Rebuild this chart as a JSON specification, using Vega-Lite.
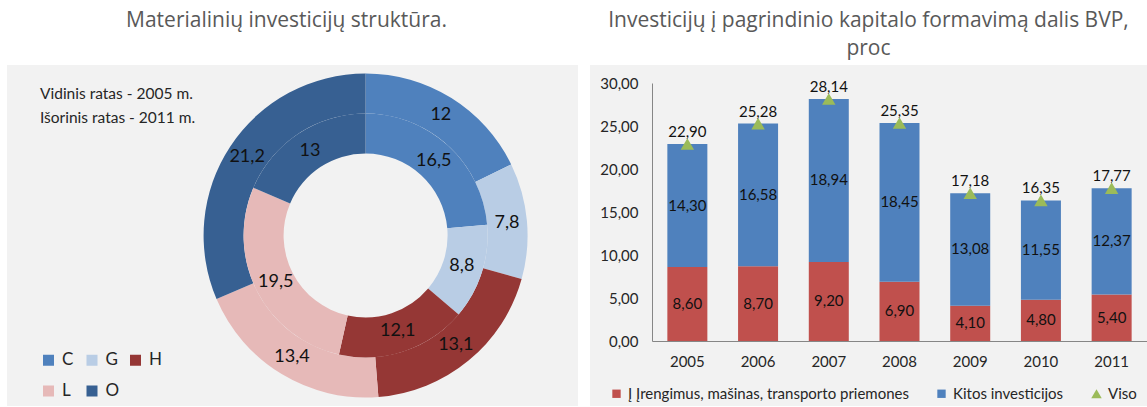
{
  "$schema": "https://vega.github.io/schema/vega-lite/v6.json",
  "padding": {"left": 7, "top": 10, "right": 0, "bottom": 0},
  "background": "white",
  "bounds": "flush",
  "spacing": 12,
  "resolve": {"scale": {"color": "independent"}, "legend": {"color": "independent"}},
  "config": {
    "font": "Lato",
    "view": {"fill": "#f2f2f2", "stroke": null},
    "locale": {"number": {"decimal": ",", "thousands": " ", "grouping": [3], "currency": ["", ""]}},
    "title": {"fontSize": 21, "fontWeight": "normal", "color": "#595959", "font": "Open Sans", "lineHeight": 28}
  },
  "hconcat": [
    {
      "width": 571,
      "height": 341,
      "title": {"text": "Materialinių investicijų struktūra.", "offset": 34, "dx": -6},
      "data": {"values": [
        {"ring": "2005", "cat": "C", "value": 16.5},
        {"ring": "2005", "cat": "G", "value": 8.8},
        {"ring": "2005", "cat": "H", "value": 12.1},
        {"ring": "2005", "cat": "L", "value": 19.5},
        {"ring": "2005", "cat": "O", "value": 13},
        {"ring": "2011", "cat": "C", "value": 12},
        {"ring": "2011", "cat": "G", "value": 7.8},
        {"ring": "2011", "cat": "H", "value": 13.1},
        {"ring": "2011", "cat": "L", "value": 13.4},
        {"ring": "2011", "cat": "O", "value": 21.2}
      ]},
      "encoding": {
        "x": {"datum": 0.628, "type": "quantitative", "scale": {"domain": [0, 1], "nice": false, "zero": false}, "axis": null}
      },
      "layer": [
        {
          "transform": [{"filter": "datum.ring === '2011'"}],
          "mark": {"type": "arc", "radius": 162, "radius2": 122},
          "encoding": {
            "theta": {"field": "value", "type": "quantitative", "stack": "normalize"},
            "order": {"field": "cat", "sort": "ascending"},
            "color": {
              "field": "cat", "type": "nominal",
              "scale": {"domain": ["C", "G", "H", "L", "O"], "range": ["#4f81bd", "#b9cde5", "#953735", "#e6b9b8", "#376092"]},
              "legend": {
                "title": ["Vidinis ratas - 2005 m.", "Išorinis ratas - 2011 m."],
                "orient": "none", "legendX": 33, "legendY": 22,
                "columns": 3, "direction": "horizontal", "gridAlign": "all",
                "symbolType": "square", "symbolSize": 121, "symbolStrokeWidth": 0,
                "labelFontSize": 17, "labelColor": "#262626", "labelOffset": 5,
                "titleFontSize": 15.5, "titleFontWeight": "normal", "titleColor": "#262626",
                "titleLineHeight": 24, "titlePadding": 225, "titleLimit": 400,
                "titleAnchor": "start", "titleAlign": "left", "titleOrient": "top",
                "columnPadding": 7.5, "rowPadding": 13, "padding": 0
              }
            }
          }
        },
        {
          "transform": [{"filter": "datum.ring === '2005'"}],
          "mark": {"type": "arc", "radius": 122, "radius2": 82},
          "encoding": {
            "theta": {"field": "value", "type": "quantitative", "stack": "normalize"},
            "order": {"field": "cat", "sort": "ascending"},
            "color": {"field": "cat", "type": "nominal"}
          }
        },
        {
          "transform": [{"filter": "datum.ring === '2011'"}],
          "mark": {"type": "text", "radius": 142, "fontSize": 18, "color": "#111111"},
          "encoding": {
            "theta": {"field": "value", "type": "quantitative", "stack": "normalize"},
            "order": {"field": "cat", "sort": "ascending"},
            "detail": {"field": "cat", "type": "nominal"},
            "text": {"field": "value", "type": "quantitative", "format": "~g"}
          }
        },
        {
          "transform": [{"filter": "datum.ring === '2005'"}],
          "mark": {"type": "text", "radius": 101, "fontSize": 18, "color": "#111111"},
          "encoding": {
            "theta": {"field": "value", "type": "quantitative", "stack": "normalize"},
            "order": {"field": "cat", "sort": "ascending"},
            "detail": {"field": "cat", "type": "nominal"},
            "text": {"field": "value", "type": "quantitative", "format": "~g"}
          }
        }
      ]
    },
    {
      "width": 557,
      "height": 341,
      "title": {"text": ["Investicijų į pagrindinio kapitalo formavimą dalis BVP,", "proc"], "offset": 6},
      "data": {"values": [
        {"year": "2005", "series": "Į Įrengimus, mašinas, transporto priemones", "value": 8.6},
        {"year": "2006", "series": "Į Įrengimus, mašinas, transporto priemones", "value": 8.7},
        {"year": "2007", "series": "Į Įrengimus, mašinas, transporto priemones", "value": 9.2},
        {"year": "2008", "series": "Į Įrengimus, mašinas, transporto priemones", "value": 6.9},
        {"year": "2009", "series": "Į Įrengimus, mašinas, transporto priemones", "value": 4.1},
        {"year": "2010", "series": "Į Įrengimus, mašinas, transporto priemones", "value": 4.8},
        {"year": "2011", "series": "Į Įrengimus, mašinas, transporto priemones", "value": 5.4},
        {"year": "2005", "series": "Kitos investicijos", "value": 14.3},
        {"year": "2006", "series": "Kitos investicijos", "value": 16.58},
        {"year": "2007", "series": "Kitos investicijos", "value": 18.94},
        {"year": "2008", "series": "Kitos investicijos", "value": 18.45},
        {"year": "2009", "series": "Kitos investicijos", "value": 13.08},
        {"year": "2010", "series": "Kitos investicijos", "value": 11.55},
        {"year": "2011", "series": "Kitos investicijos", "value": 12.37},
        {"year": "2005", "series": "Viso", "value": 22.9},
        {"year": "2006", "series": "Viso", "value": 25.28},
        {"year": "2007", "series": "Viso", "value": 28.14},
        {"year": "2008", "series": "Viso", "value": 25.35},
        {"year": "2009", "series": "Viso", "value": 17.18},
        {"year": "2010", "series": "Viso", "value": 16.35},
        {"year": "2011", "series": "Viso", "value": 17.77}
      ]},
      "encoding": {
        "x": {
          "field": "year", "type": "nominal",
          "scale": {"range": [62, 557], "paddingInner": 0.4343, "paddingOuter": 0.2172},
          "axis": {"title": null, "orient": "bottom", "offset": -65, "labelAngle": 0, "ticks": false,
                   "domainColor": "#868686", "labelFontSize": 15, "labelColor": "#262626", "labelPadding": 13}
        }
      },
      "layer": [
        {
          "transform": [{"filter": "datum.series !== 'Viso'"}],
          "mark": {"type": "bar"},
          "encoding": {
            "y": {
              "field": "value", "type": "quantitative", "stack": "zero",
              "scale": {"domain": [0, 30], "range": [276, 18], "nice": false},
              "axis": {"title": null, "values": [0, 5, 10, 15, 20, 25, 30], "format": ".2f", "offset": -62,
                       "ticks": false, "grid": false, "domainColor": "#868686",
                       "labelFontSize": 15, "labelColor": "#262626", "labelPadding": 14}
            },
            "order": {"field": "series", "sort": "descending"},
            "color": {
              "field": "series", "type": "nominal",
              "scale": {"domain": ["Į Įrengimus, mašinas, transporto priemones", "Kitos investicijos", "Viso"],
                        "range": ["#c0504d", "#4f81bd", "#9bbb59"]},
              "legend": {
                "title": null, "orient": "none", "legendX": 19, "legendY": 321,
                "direction": "horizontal", "symbolType": "square", "symbolSize": 70, "symbolStrokeWidth": 0,
                "labelFontSize": 15, "labelColor": "#262626", "labelOffset": 4, "labelLimit": 400,
                "columnPadding": 25, "padding": 0,
                "encode": {"symbols": {"update": {
                  "shape": {"signal": "datum.value === 'Viso' ? 'triangle-up' : 'square'"},
                  "size": {"signal": "datum.value === 'Viso' ? 110 : 70"}
                }}}
              }
            }
          }
        },
        {
          "transform": [{"filter": "datum.series !== 'Viso'"}],
          "mark": {"type": "text", "fontSize": 15, "color": "#111111"},
          "encoding": {
            "y": {"field": "value", "type": "quantitative", "stack": "zero", "bandPosition": 0.5},
            "order": {"field": "series", "sort": "descending"},
            "detail": {"field": "series", "type": "nominal"},
            "text": {"field": "value", "type": "quantitative", "format": ".2f"}
          }
        },
        {
          "transform": [{"filter": "datum.series === 'Viso'"}],
          "mark": {"type": "point", "shape": "triangle-up", "filled": true, "size": 180, "opacity": 1},
          "encoding": {
            "y": {"field": "value", "type": "quantitative"},
            "color": {"field": "series", "type": "nominal"}
          }
        },
        {
          "transform": [{"filter": "datum.series === 'Viso'"}],
          "mark": {"type": "text", "fontSize": 15, "color": "#111111", "dy": -12},
          "encoding": {
            "y": {"field": "value", "type": "quantitative"},
            "text": {"field": "value", "type": "quantitative", "format": ".2f"}
          }
        }
      ]
    }
  ]
}
